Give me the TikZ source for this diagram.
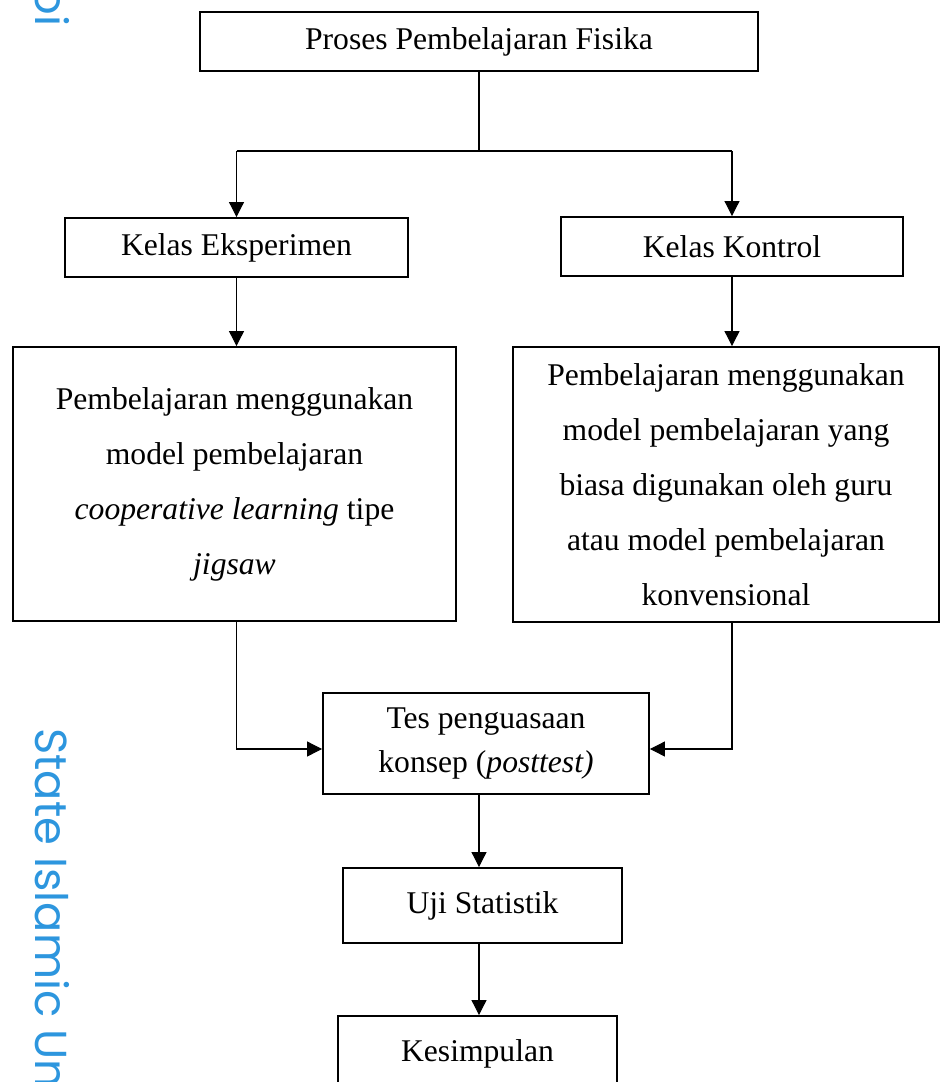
\documentclass[tikz,border=0pt]{standalone}
\usepackage{fontspec}
\setmainfont{Liberation Serif}
\newfontfamily\wmfont{Poppins}
\usepackage{tikz}
\usetikzlibrary{arrows.meta}
\tikzstyle{stepbox}=[rectangle, draw, line width=1.1pt, align=center, inner sep=0pt, font=\fontsize{18}{31.3}\selectfont]
\tikzstyle{link}=[draw, line width=0.6pt]
\tikzstyle{flow}=[link, -{Triangle[length=0.3cm, width=0.3cm]}]
\tikzstyle{wmark}=[rotate=-90, text=wmblue, inner sep=0pt, font=\wmfont\fontsize{25.5}{28}\selectfont]
\definecolor{wmblue}{RGB}{45, 150, 222}

\begin{document}
\begin{tikzpicture}[x=0.02cm, y=-0.02cm]
      %
      \clip (0,0) rectangle (941,1082);
      %
      % watermark on the left margin
      %
      \node[wmark, anchor=base east] (wmtop) at (35,27) {oi};
      \node[wmark, anchor=base west] (wmside) at (35,728) {State Islamic Uni};
      %
      % Proses Pembelajaran* --> Kelas Eksperimen*, Kelas Kontrol*
      %
      \node[stepbox, minimum width=11.16cm, minimum height=1.18cm] (proses) at (479,41.5) {Proses Pembelajaran Fisika};
      \node[stepbox, minimum width=6.86cm, minimum height=1.18cm] (eksp) at (236.5,247.5) {Kelas Eksperimen};
      \node[stepbox, minimum width=6.84cm, minimum height=1.18cm] (kontrol) at (732,246.5) {Kelas Kontrol};
      \coordinate (split) at (479,151);
      \path[link] (proses.south) -- (split);
      \path[link] (eksp.north |- split) -- (kontrol.north |- split);
      \path[flow] (eksp.north |- split) -- (eksp.north);
      \path[flow] (kontrol.north |- split) -- (kontrol.north);
      %
      % Kelas --> Pembelajaran*
      %
      \node[stepbox, minimum width=8.86cm, minimum height=5.48cm] (jigsaw) at (234.5,484)
        {Pembelajaran menggunakan\\ model pembelajaran\\ \textit{cooperative learning} tipe\\ \textit{jigsaw}};
      \node[stepbox, minimum width=8.52cm, minimum height=5.5cm] (konv) at (726,484.5)
        {Pembelajaran menggunakan\\ model pembelajaran yang\\ biasa digunakan oleh guru\\ atau model pembelajaran\\ konvensional};
      \path[flow] (eksp.south) -- (eksp.south |- jigsaw.north);
      \path[flow] (kontrol.south) -- (kontrol.south |- konv.north);
      %
      % Pembelajaran --> Tes penguasaan konsep*
      %
      \node[stepbox, font=\fontsize{18}{25}\selectfont, minimum width=6.52cm, minimum height=2.02cm] (tes) at (486,743.5)
        {Tes penguasaan\\ konsep (\textit{posttest)}};
      \path[flow] (eksp.south |- jigsaw.south) |- ([yshift=-0.11cm]tes.west);
      \path[flow] (kontrol.south |- konv.south) |- ([yshift=-0.11cm]tes.east);
      %
      % Tes --> Uji Statistik* --> Kesimpulan*
      %
      \node[stepbox, minimum width=5.58cm, minimum height=1.5cm] (uji) at (482.5,905.5) {Uji Statistik};
      \node[stepbox, minimum width=5.58cm, minimum height=1.5cm] (kes) at (477.5,1053.5) {Kesimpulan};
      \path[flow] (tes.south -| split) -- (split |- uji.north);
      \path[flow] (uji.south -| split) -- (split |- kes.north);
      %
\end{tikzpicture}
\end{document}
